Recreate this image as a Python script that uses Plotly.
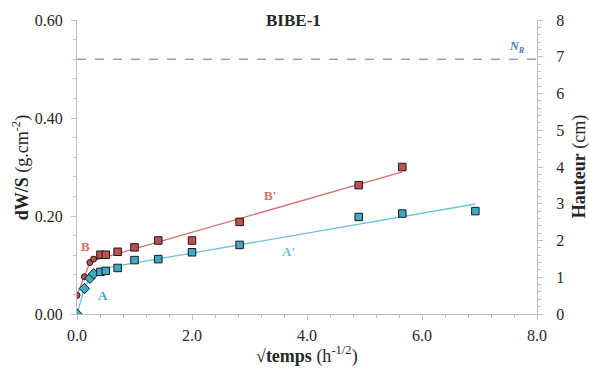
import plotly.graph_objects as go

# ---- data ----
# sqrt(time) values, h^-1/2
xA_curve = [0.0, 0.129, 0.224, 0.289]
yA_curve = [0.0, 0.052, 0.073, 0.082]
xA_sq = [0.408, 0.5, 0.707, 1.0, 1.414, 2.0, 2.828, 4.899, 5.657, 6.928]
yA_sq = [0.086, 0.088, 0.094, 0.110, 0.112, 0.126, 0.141, 0.198, 0.205, 0.210]

xB_curve = [0.0, 0.129, 0.224, 0.289]
yB_curve = [0.038, 0.076, 0.105, 0.112]
xB_sq = [0.408, 0.5, 0.707, 1.0, 1.414, 2.0, 2.828, 4.899, 5.657]
yB_sq = [0.121, 0.121, 0.127, 0.136, 0.150, 0.150, 0.188, 0.263, 0.300]

# fitted lines (endpoints)
fitA_x = [0.289, 0.408, 6.928]
fitA_y = [0.082, 0.092, 0.2245]
fitB_x = [0.289, 5.657]
fitB_y = [0.109, 0.290]

NR_level = 0.52  # dashed line (left axis units)

x_ticks = [0, 2, 4, 6, 8]
x_ticklabels = ["0.0", "2.0", "4.0", "6.0", "8.0"]
y_ticks = [0, 0.2, 0.4, 0.6]
y_ticklabels = ["0.00", "0.20", "0.40", "0.60"]
y2_ticks = [0, 1, 2, 3, 4, 5, 6, 7, 8]

RED_LINE = "#d8706c"
RED_FILL = "#c0504d"
BLUE_LINE = "#6cc3da"
BLUE_FILL = "#3fa8c4"
DASH = "#4f79b5"
AXIS = "#bfbfbf"
TXT = "#262626"
SERIF = "'Times New Roman', 'Liberation Serif', serif"

fig = go.Figure()

# lines
fig.add_trace(go.Scatter(x=xB_curve, y=yB_curve, mode="lines",
                         line=dict(color=RED_LINE, width=1.3), hoverinfo="skip"))
fig.add_trace(go.Scatter(x=fitB_x, y=fitB_y, mode="lines",
                         line=dict(color=RED_LINE, width=1.3), hoverinfo="skip"))
fig.add_trace(go.Scatter(x=xA_curve, y=yA_curve, mode="lines",
                         line=dict(color=BLUE_LINE, width=1.3), hoverinfo="skip"))
fig.add_trace(go.Scatter(x=fitA_x, y=fitA_y, mode="lines",
                         line=dict(color=BLUE_LINE, width=1.3), hoverinfo="skip"))

# dashed N_R line
fig.add_trace(go.Scatter(x=[0, 8], y=[NR_level, NR_level], mode="lines",
                         line=dict(color=DASH, width=1, dash="dash"), hoverinfo="skip"))

# markers
mline = dict(color="#1a1a1a", width=1)
fig.add_trace(go.Scatter(x=xB_curve, y=yB_curve, mode="markers",
                         marker=dict(symbol="circle", size=6, color=RED_FILL, line=mline)))
fig.add_trace(go.Scatter(x=xB_sq, y=yB_sq, mode="markers",
                         marker=dict(symbol="square", size=7.5, color=RED_FILL, line=mline)))
fig.add_trace(go.Scatter(x=xA_curve, y=yA_curve, mode="markers",
                         marker=dict(symbol="diamond", size=8, color=BLUE_FILL, line=mline)))
fig.add_trace(go.Scatter(x=xA_sq, y=yA_sq, mode="markers",
                         marker=dict(symbol="square", size=7.5, color=BLUE_FILL, line=mline)))

# invisible trace for right axis
fig.add_trace(go.Scatter(x=[0], y=[0], yaxis="y2", mode="markers",
                         marker=dict(opacity=0), hoverinfo="skip"))

labels = [
    dict(text="<b>B</b>", x=0.156, y=0.137, color=RED_LINE),
    dict(text="<b>A</b>", x=0.45, y=0.037, color=BLUE_FILL),
    dict(text="<b>B'</b>", x=3.35, y=0.241, color=RED_LINE),
    dict(text="<b>A'</b>", x=3.68, y=0.127, color=BLUE_LINE),
]
anns = []
for l in labels:
    anns.append(dict(text=l["text"], x=l["x"], y=l["y"], xref="x", yref="y",
                     showarrow=False, font=dict(family=SERIF, size=13, color=l["color"])))
anns.append(dict(text="<b><i>N<sub>R</sub></i></b>", x=7.66, y=0.545, xref="x", yref="y",
                 showarrow=False, font=dict(family=SERIF, size=12, color=DASH)))
anns.append(dict(text="<b>BIBE-1</b>", x=0.47, y=0.9966, xref="paper", yref="paper",
                 showarrow=False, yanchor="middle", font=dict(family=SERIF, size=17, color=TXT)))
anns.append(dict(text="<b>√temps</b> (h<sup>-1/2</sup>)", x=0.5, y=-0.139, xref="paper", yref="paper",
                 showarrow=False, yanchor="middle", font=dict(family=SERIF, size=18, color=TXT)))
anns.append(dict(text="<b>dW/S</b> (g.cm<sup>-2</sup>)", x=-0.121, y=0.5, xref="paper", yref="paper",
                 showarrow=False, textangle=-90, xanchor="center",
                 font=dict(family=SERIF, size=18, color=TXT)))
anns.append(dict(text="<b>Hauteur</b> (cm)", x=1.092, y=0.5, xref="paper", yref="paper",
                 showarrow=False, textangle=-90, xanchor="center",
                 font=dict(family=SERIF, size=18, color=TXT)))

fig.update_layout(
    width=589, height=372,
    margin=dict(l=77, r=52, t=20, b=58),
    paper_bgcolor="white", plot_bgcolor="white",
    showlegend=False,
    annotations=anns,
    font=dict(family=SERIF, color=TXT),
    xaxis=dict(range=[0, 8], tickvals=x_ticks, ticktext=x_ticklabels,
               showgrid=False, zeroline=False, showline=True, linecolor=AXIS, linewidth=1,
               ticks="outside", ticklen=5, tickcolor=AXIS, ticklabelstandoff=2,
               minor=dict(dtick=0.4, ticks="outside", ticklen=3, tickcolor=AXIS),
               tickfont=dict(family=SERIF, size=16, color=TXT)),
    yaxis=dict(range=[0, 0.6], tickvals=y_ticks, ticktext=y_ticklabels,
               showgrid=False, zeroline=False, showline=True, linecolor=AXIS, linewidth=1,
               ticks="outside", ticklen=5, tickcolor=AXIS, ticklabelstandoff=5,
               minor=dict(dtick=0.04, ticks="outside", ticklen=3, tickcolor=AXIS),
               tickfont=dict(family=SERIF, size=16, color=TXT)),
    yaxis2=dict(range=[0, 8], tickvals=y2_ticks, overlaying="y", side="right",
                showgrid=False, zeroline=False, showline=True, linecolor=AXIS, linewidth=1,
                ticks="outside", ticklen=5, tickcolor=AXIS, ticklabelstandoff=10,
                minor=dict(dtick=0.2, ticks="outside", ticklen=3, tickcolor=AXIS),
                tickfont=dict(family=SERIF, size=16, color=TXT)),
)

fig.write_html("out.html", post_script="document.body.style.margin='0';",
               config={"displayModeBar": False})
